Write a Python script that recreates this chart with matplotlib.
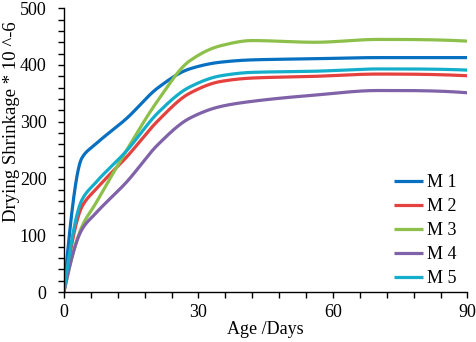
import numpy as np
import matplotlib
matplotlib.use('Agg')
import matplotlib.pyplot as plt
from matplotlib.ticker import MultipleLocator

# test ages (days) and drying shrinkage (x 10^-6) for each mix
days = [0, 4, 7, 14, 21, 28, 35, 42, 56, 70, 90]
m1 = [0, 236, 260, 306, 360, 393, 405, 409, 411, 413, 413]
m2 = [0, 150, 180, 238, 302, 350, 371, 377, 380, 384, 381]
m3 = [0, 115, 155, 250, 338, 407, 434, 443, 440, 445, 442]
m4 = [0, 110, 138, 194, 260, 306, 327, 336, 347, 355, 351]
m5 = [0, 162, 192, 249, 316, 361, 381, 387, 389, 393, 391]
labels = ['M 1', 'M 2', 'M 3', 'M 4', 'M 5']
colors = ['#0870C0', '#E4413F', '#8CC04A', '#7F62A8', '#14AECB']


def smooth(x, y, n=60):
    # monotone cubic through the points (no overshoot at the early knee)
    x = np.asarray(x, float)
    y = np.asarray(y, float)
    h = np.diff(x)
    d = np.diff(y) / h
    m = np.zeros_like(y)
    for k in range(1, len(x) - 1):
        if d[k - 1] * d[k] > 0:
            w1 = 2 * h[k] + h[k - 1]
            w2 = h[k] + 2 * h[k - 1]
            m[k] = (w1 + w2) / (w1 / d[k - 1] + w2 / d[k])
    m[0] = ((2 * h[0] + h[1]) * d[0] - h[0] * d[1]) / (h[0] + h[1])
    m[-1] = ((2 * h[-1] + h[-2]) * d[-1] - h[-1] * d[-2]) / (h[-1] + h[-2])
    xs, ys = [], []
    t = np.linspace(0, 1, n)
    for k in range(len(x) - 1):
        h00 = 2 * t**3 - 3 * t**2 + 1
        h10 = t**3 - 2 * t**2 + t
        h01 = -2 * t**3 + 3 * t**2
        h11 = t**3 - t**2
        xs.append(x[k] + t * h[k])
        ys.append(h00 * y[k] + h10 * h[k] * m[k] + h01 * y[k + 1] + h11 * h[k] * m[k + 1])
    return np.concatenate(xs), np.concatenate(ys)


plt.rcParams['font.family'] = 'Liberation Serif'
plt.rcParams['font.size'] = 13

fig = plt.figure(figsize=(4.77, 3.42), dpi=100)
ax = fig.add_axes([0.134, 0.146, 0.846, 0.83])

for vals, lab, c in zip([m1, m2, m3, m4, m5], labels, colors):
    sx, sy = smooth(days, vals)
    ax.plot(sx, sy, color=c, lw=2.3, label=lab, solid_capstyle='butt')

ax.set_xlim(0, 90)
ax.set_ylim(0, 500)
ax.xaxis.set_major_locator(MultipleLocator(30))
ax.xaxis.set_minor_locator(MultipleLocator(6))
ax.yaxis.set_major_locator(MultipleLocator(100))
ax.yaxis.set_minor_locator(MultipleLocator(20))
for side in ['top', 'right']:
    ax.spines[side].set_visible(False)
for side in ['left', 'bottom']:
    ax.spines[side].set_linewidth(1.0)
ax.tick_params(which='both', direction='out', length=4.5, width=1.0, colors='black')
ax.tick_params(axis='x', labelsize=13, pad=4)
ax.tick_params(axis='y', labelsize=13, pad=8)

ax.set_xlabel('Age /Days', fontsize=13, labelpad=0)
ax.set_ylabel('Drying Shrinkage * 10 ^-6', fontsize=13.5)
ax.yaxis.set_label_coords(-0.108, 0.6)

ax.legend(loc='upper right', bbox_to_anchor=(0.958, 0.49), bbox_transform=fig.transFigure,
          frameon=False, fontsize=13, handlelength=1.6, handletextpad=0.25,
          labelspacing=0.38, borderpad=0, borderaxespad=0)

fig.savefig('out.png', dpi=100)
